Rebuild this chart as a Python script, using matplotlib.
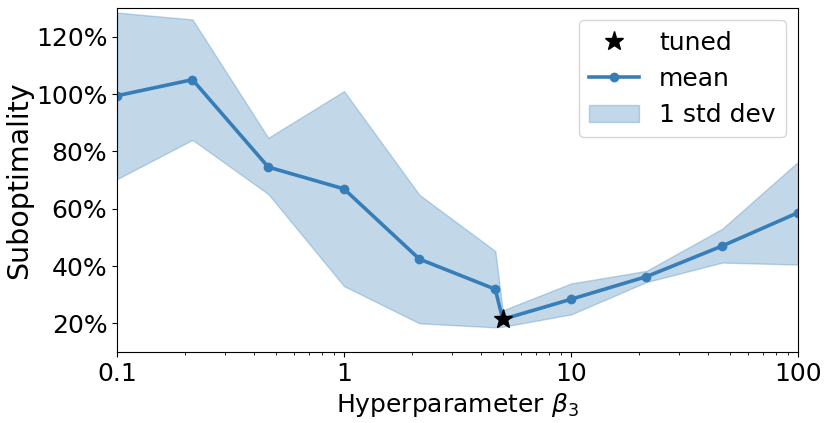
import numpy as np
import matplotlib
matplotlib.use("Agg")
import matplotlib.pyplot as plt
from matplotlib.ticker import PercentFormatter, FixedLocator, FixedFormatter

# Hyperparameter sweep (beta_3) and suboptimality statistics, in %
beta = [0.1, 0.215, 0.464, 1.0, 2.15, 4.64, 5.0, 10.0, 21.5, 46.4, 100.0]
mean = [99.4, 105.0, 74.5, 66.9, 42.4, 31.9, 21.4, 28.4, 36.3, 47.0, 58.6]
upper = [128.4, 126.0, 84.7, 101.0, 64.8, 45.2, 24.5, 33.9, 38.3, 53.0, 76.3]
lower = [70.3, 84.0, 65.1, 33.0, 20.0, 18.6, 18.8, 23.1, 34.4, 41.2, 40.5]
tuned_beta = 5.0
tuned_value = 21.4

x_ticks = [0.1, 1, 10, 100]
x_tick_labels = ["0.1", "1", "10", "100"]
y_ticks = [20, 40, 60, 80, 100, 120]

color = "#377eb8"

fig = plt.figure(figsize=(8.31, 4.23), dpi=100)
ax = fig.add_axes([117 / 831, 71 / 423, 681 / 831, 344 / 423])

band = ax.fill_between(beta, lower, upper, color=color, alpha=0.3, label="1 std dev")
line, = ax.plot(beta, mean, color=color, lw=2.6, marker="o", markersize=6, label="mean")
star, = ax.plot([tuned_beta], [tuned_value], ls="none", marker="*", color="black",
                markersize=14, label="tuned")

ax.set_xscale("log")
ax.set_xlim(0.1, 100)
ax.set_ylim(10, 130)
ax.xaxis.set_major_locator(FixedLocator(x_ticks))
ax.xaxis.set_major_formatter(FixedFormatter(x_tick_labels))
ax.set_yticks(y_ticks)
ax.yaxis.set_major_formatter(PercentFormatter(100, decimals=0))
ax.tick_params(axis="both", which="major", labelsize=18)

ax.set_xlabel(r"Hyperparameter $\beta_3$", fontsize=18)
ax.set_ylabel("Suboptimality", fontsize=20.5, labelpad=2)

ax.legend(handles=[star, line, band], loc="upper right", fontsize=18)

fig.savefig("out.png", dpi=100)
